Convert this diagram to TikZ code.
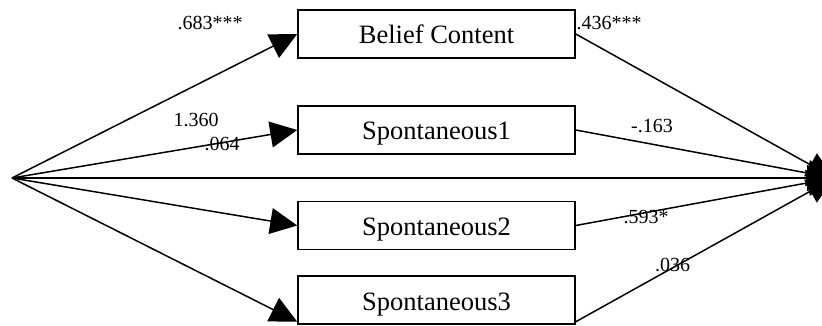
\documentclass[tikz,border=0pt]{standalone}
\usepackage{fontspec}
\setmainfont{Liberation Serif}
\usetikzlibrary{arrows.meta}
\tikzset{
  varbox/.style={draw=black, line width=1.5pt, minimum width=277pt, minimum height=48pt,
    inner sep=0pt, text height=20pt, text depth=0pt, font=\fontsize{26.5}{30}\selectfont},
  path/.style={line width=1.5pt, -{Triangle[length=27pt,width=26pt]}},
  coef/.style={anchor=base, inner sep=0pt, font=\fontsize{20}{24}\selectfont}
}
\begin{document}
\begin{tikzpicture}[x=1pt,y=-1pt]
\useasboundingbox (0,0) rectangle (822,326);
\coordinate (L) at (12,178);
\coordinate (R) at (834,178);
\node[varbox] (b1) at (436.5,34) {Belief Content};
\node[varbox] (b2) at (436.5,130) {Spontaneous1};
\node[varbox] (b3) at (436.5,225.5) {Spontaneous2};
\node[varbox] (b4) at (436.5,300) {Spontaneous3};
\coordinate (b4in) at ([yshift=3pt]b4.south west);
\coordinate (b4out) at ([yshift=3pt]b4.south east);
\draw[path] (L) -- (b1.west);
\draw[path] (L) -- (b2.west);
\draw[path] (L) -- (b3.west);
\draw[path] (L) -- (b4in);
\draw[path] (L) -- (R);
\draw[path] (b1.east) -- (R);
\draw[path] (b2.east) -- (R);
\draw[path] (b3.east) -- (R);
\draw[path] (b4out) -- (R);
\node[coef] (c1) at (210,30) {.683***};
\node[coef] (c2) at (196,127) {1.360};
\node[coef] (c3) at (222,151) {.064};
\node[coef] (c4) at (609,30) {.436***};
\node[coef] (c5) at (652,133) {-.163};
\node[coef] (c6) at (646,223) {.593*};
\node[coef] (c7) at (672.5,271) {.036};
\end{tikzpicture}
\end{document}
